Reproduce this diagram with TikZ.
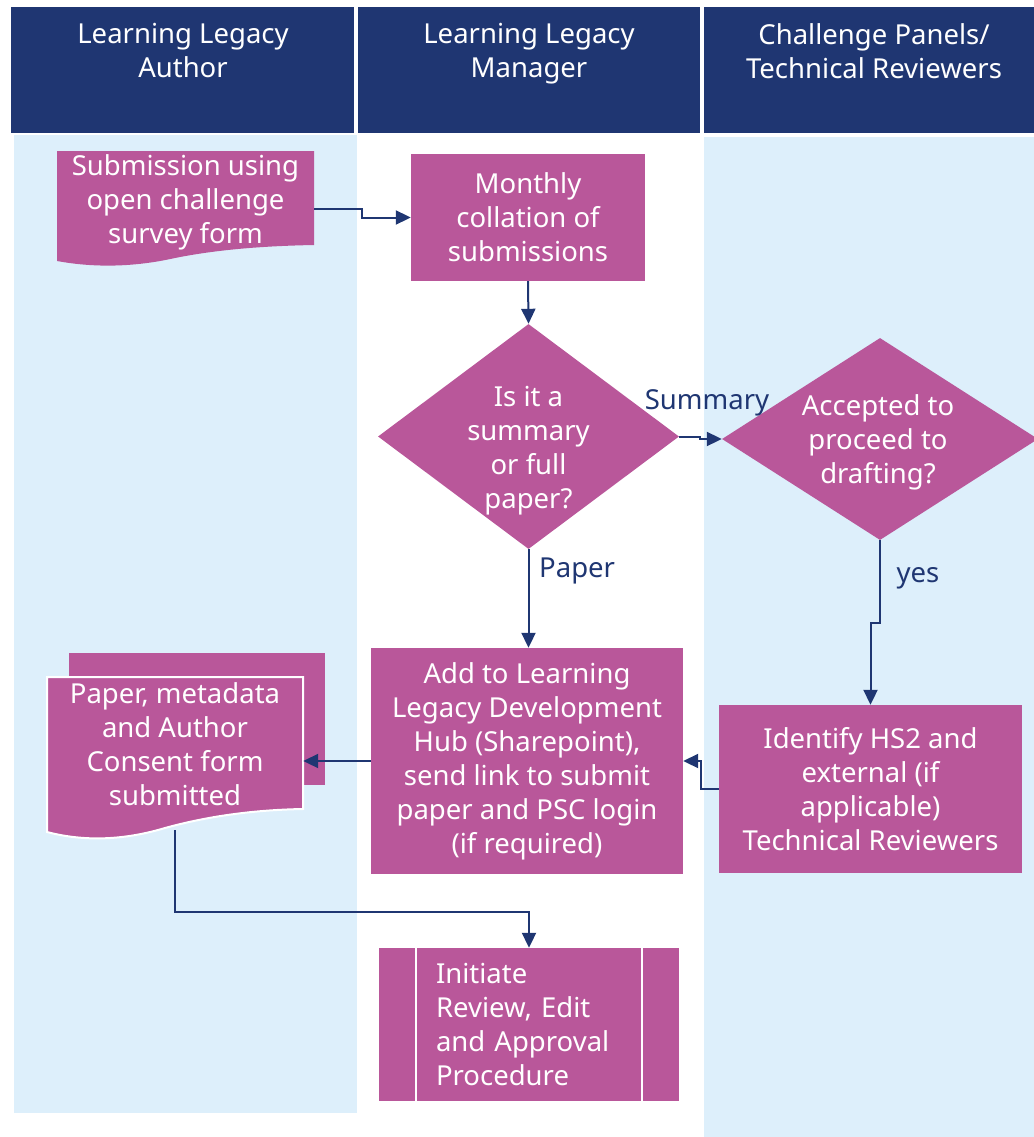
\documentclass[tikz,border=0pt]{standalone}
\usepackage{fontspec}
\setmainfont{Noto Sans}
\usepackage{tikz}
\usetikzlibrary{arrows.meta,positioning,calc,shapes.geometric}
\definecolor{cNavy}{HTML}{1F3672}
\definecolor{cPink}{HTML}{B9579A}
\definecolor{cLane}{HTML}{DDEFFB}
\tikzset{
  pbox/.style={fill=cPink,text=white,align=center,inner sep=0pt,font=\fontsize{27.5}{34}\selectfont},
  dec/.style={diamond,fill=cPink,inner sep=0pt},
  txt/.style={text=white,align=center,inner sep=0pt,font=\fontsize{27.5}{34}\selectfont},
  arr/.style={-{Triangle[length=15pt,width=14pt]},line width=2pt,color=cNavy},
  lbl/.style={font=\fontsize{27.5}{34}\selectfont,text=cNavy,inner sep=0pt},
}

\begin{document}
\begin{tikzpicture}[x=1pt,y=-1pt]
  \useasboundingbox (0,0) rectangle (1033,1137);
  % lanes and headers
  \fill[cLane] (14,135) rectangle (357,1113);
  \fill[cLane] (704,137) rectangle (1040,1137);
  \foreach \xa/\xb in {11/354,358/700,704/1040}{
    \fill[cNavy] (\xa,7) rectangle (\xb,133);}
  \node[txt] (hA) at (183,51) {Learning Legacy\\Author};
  \node[txt] (hB) at (529,54) {Learning Legacy\\Manager};
  \node[txt] (hC) at (874,51) {Challenge Panels/\\Technical Reviewers};
  % documents (shape first, text node on top)
  \fill[cPink] (57,151) -- (314,151) -- (314,245) .. controls (260,246) and (215,250) .. (175,258)
    .. controls (135,267) and (95,268) .. (57,261) -- cycle;
  \node[txt,minimum width=257pt,minimum height=100pt] (sub) at (185.5,202) {Submission using\\open challenge\\survey form};
  \fill[cPink] (69,653) rectangle (325,785);
  \filldraw[fill=cPink,draw=white,line width=2pt] (47,677) -- (303,677) -- (303,809) .. controls (250,810) and (205,817) .. (165,828)
    .. controls (125,840) and (85,842) .. (47,832) -- cycle;
  \node[txt,minimum width=256pt,minimum height=132pt] (pap) at (175,744) {Paper, metadata\\and Author\\Consent form\\submitted};
  % process boxes
  \node[pbox,minimum width=234pt,minimum height=127pt] (coll) at (528,217.5) {Monthly\\collation of\\submissions};
  \node[pbox,minimum width=312pt,minimum height=226pt] (add) at (527,761) {Add to Learning\\Legacy Development\\Hub (Sharepoint),\\send link to submit\\paper and PSC login\\(if required)};
  \node[pbox,minimum width=303pt,minimum height=168pt] (rev) at (870.5,789) {Identify HS2 and\\external (if\\applicable)\\Technical Reviewers};
  \node[pbox,minimum width=300pt,minimum height=153pt,text width=186pt,align=left] (ini) at (529,1024.5) {Initiate\\Review, Edit\\and Approval\\Procedure};
  \draw[white,line width=2pt] ($(ini.north west)+(37,0)$) -- ($(ini.south west)+(37,0)$);
  \draw[white,line width=2pt] ($(ini.north east)+(-37,0)$) -- ($(ini.south east)+(-37,0)$);
  % decisions
  \node[dec,minimum width=301pt,minimum height=225pt] (q) at (528.5,436.5) {};
  \node[txt] (qt) at (528.5,451) {Is it a\\summary\\or full\\paper?};
  \node[dec,minimum width=316pt,minimum height=202pt] (acc) at (880,439) {};
  \node[txt] (acct) at (878,442) {Accepted to\\proceed to\\drafting?};
  % connectors
  \draw[arr] ($(sub.east)+(0,7)$) -- ++(48,0) |- (coll.west);
  \draw[arr] (coll.south) -- (q.north);
  \draw[arr] (q.east) -- ++(21,0) |- (acc.west);
  \node[lbl] (lsum) at (707,403) {Summary};
  \draw[arr] (q.south) -- (q.south |- add.north);
  \node[lbl,anchor=west] (lpap) at (539,571) {Paper};
  \draw[arr] (acc.south) -- ++(0,83) -| (rev.north);
  \node[lbl] (lyes) at (918,578) {yes};
  \draw[arr] (rev.west) -- ++(-18,0) |- (add.east);
  \draw[arr] (add.west) -- (add.west -| pap.east);
  \draw[arr] ($(pap.south)+(0,20)$) -- ++(0,82) -| (ini.north);
\end{tikzpicture}
\end{document}
